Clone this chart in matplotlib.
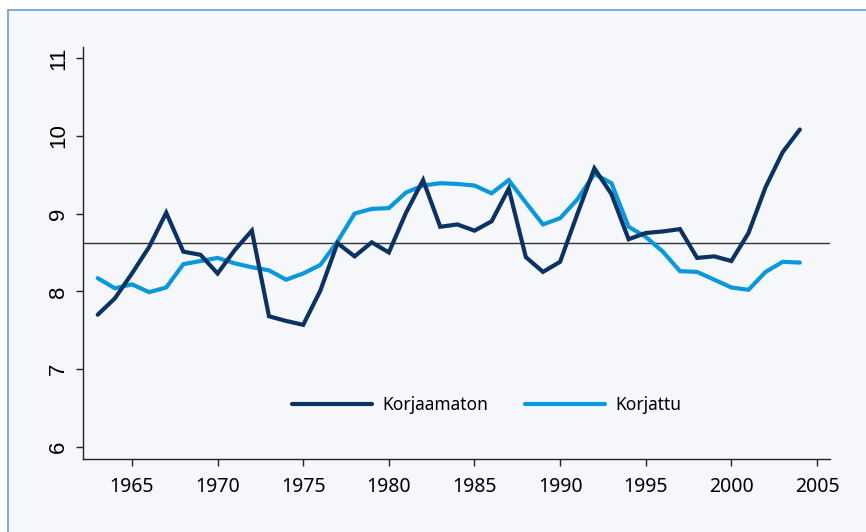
import numpy as np
import matplotlib
matplotlib.use("Agg")
import matplotlib.pyplot as plt
from matplotlib.patches import Rectangle

# data
years = list(range(1963, 2005))
korjaamaton = [7.70, 7.91, 8.23, 8.57, 9.01, 8.51, 8.47, 8.23, 8.53, 8.78,
               7.68, 7.62, 7.57, 8.01, 8.62, 8.45, 8.63, 8.50, 9.01, 9.43,
               8.83, 8.86, 8.78, 8.90, 9.32, 8.44, 8.25, 8.38, 8.99, 9.58,
               9.25, 8.67, 8.75, 8.77, 8.80, 8.43, 8.45, 8.39, 8.75, 9.34,
               9.79, 10.08]
korjattu = [8.17, 8.04, 8.09, 7.99, 8.05, 8.35, 8.39, 8.43, 8.36, 8.31,
            8.27, 8.15, 8.23, 8.34, 8.64, 9.00, 9.06, 9.07, 9.27, 9.36,
            9.39, 9.38, 9.36, 9.26, 9.43, 9.14, 8.86, 8.94, 9.18, 9.51,
            9.39, 8.83, 8.70, 8.51, 8.26, 8.25, 8.15, 8.05, 8.02, 8.25,
            8.38, 8.37]
mean_level = 8.627
labels = ["Korjaamaton", "Korjattu"]
x_ticks = [1965, 1970, 1975, 1980, 1985, 1990, 1995, 2000, 2005]
y_ticks = [6, 7, 8, 9, 10, 11]

dark = "#0a3263"
light = "#0a98dc"
bg = "#f5f7fb"

fig = plt.figure(figsize=(8.66, 5.32), dpi=100, facecolor="white")
# light panel with thin blue border, open to the right and bottom
fig.patches.append(Rectangle((8 / 866, -0.2), 2.0, 0.2 + (532 - 10) / 532,
                             transform=fig.transFigure, facecolor=bg,
                             edgecolor="#74a6d6", lw=1.3, zorder=-10))

ax = fig.add_axes([83 / 866, 73 / 532, (830 - 83) / 866, (459 - 47) / 532])
ax.set_facecolor("none")

ax.axhline(mean_level, color="#333333", lw=1.0, zorder=1)
ax.plot(years, korjaamaton, color=dark, lw=3.0, solid_capstyle="round",
        solid_joinstyle="miter", label=labels[0], zorder=3)
ax.plot(years, korjattu, color=light, lw=3.0, solid_capstyle="round",
        solid_joinstyle="miter", label=labels[1], zorder=2)

ax.set_xlim(1962.14, 2005.76)
ax.set_ylim(5.846, 11.14)
ax.set_xticks(x_ticks)
ax.set_yticks(y_ticks)

for s in ["top", "right"]:
    ax.spines[s].set_visible(False)
for s in ["left", "bottom"]:
    ax.spines[s].set_linewidth(1.0)
    ax.spines[s].set_color("#222222")

ax.tick_params(axis="both", direction="out", length=5, width=1.0, color="#222222")
ax.tick_params(axis="x", pad=8)
ax.tick_params(axis="y", pad=5)
for t in ax.get_xticklabels():
    t.set_family(["Noto Sans", "DejaVu Sans"])
    t.set_fontsize(14)
for t in ax.get_yticklabels():
    t.set_family(["Liberation Sans Narrow", "Liberation Sans", "DejaVu Sans"])
    t.set_fontsize(16)
    t.set_rotation(90)
    t.set_va("center")

fig.legend(loc="center", bbox_to_anchor=(0.562, 0.2388), ncol=2, frameon=False,
           handlelength=4.6, handletextpad=0.6, columnspacing=2.1,
           prop={"family": "Noto Sans", "size": 12.5})

fig.savefig("out.png", dpi=100, facecolor=fig.get_facecolor())
